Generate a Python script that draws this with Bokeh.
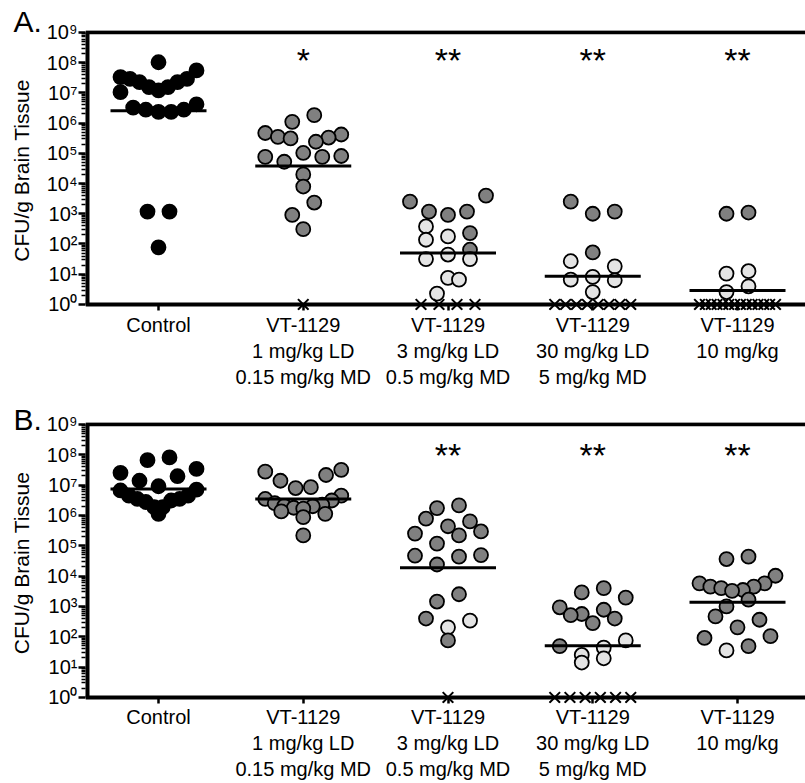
import math
from bokeh.plotting import figure
from bokeh.models import Range1d, FixedTicker, Title, ColumnDataSource
from bokeh.layouts import column
from bokeh.embed import file_html
from bokeh.resources import INLINE
from bokeh.core.properties import value

FONT = "Liberation Sans"

# ---------------- data (log10 CFU/g brain tissue, one value per mouse) ----------------
groups = [
    "Control",
    "VT-1129\n1 mg/kg LD\n0.15 mg/kg MD",
    "VT-1129\n3 mg/kg LD\n0.5 mg/kg MD",
    "VT-1129\n30 mg/kg LD\n5 mg/kg MD",
    "VT-1129\n10 mg/kg",
]
y_ticks_exp = [0, 1, 2, 3, 4, 5, 6, 7, 8, 9]
y_label = "CFU/g Brain Tissue"

# Panel A
a_black = [
    [8.01, 7.74, 7.52, 7.46, 7.46, 7.35, 7.35, 7.19, 7.19, 7.08,
     7.02, 6.62, 6.51, 6.44, 6.44, 6.37, 6.37, 3.07, 3.07, 1.89],
    [], [], [], [],
]
a_dark = [
    [],
    [6.26, 6.04, 5.67, 5.62, 5.54, 5.52, 5.49, 5.38, 5.01, 4.91,
     4.88, 4.88, 4.72, 4.30, 3.90, 3.37, 2.96, 2.49],
    [3.60, 3.40, 3.07, 3.07, 2.96, 2.36, 1.81],
    [3.40, 3.07, 3.00, 1.72],
    [3.04, 3.00],
]
a_light = [
    [],
    [],
    [2.58, 2.25, 2.14, 1.65, 1.50, 1.50, 0.88, 0.82, 0.36],
    [1.43, 1.26, 0.91, 0.82, 0.80, 0.41],
    [1.10, 1.02, 0.60, 0.41],
]
a_below_limit = [0, 1, 4, 8, 14]     # mice with no detectable CFU (plotted as x at 10^0)
a_signif = ["", "*", "**", "**", "**"]

# Panel B
b_black = [
    [7.91, 7.82, 7.53, 7.40, 7.29, 7.14, 6.96, 6.85, 6.82, 6.65,
     6.65, 6.54, 6.54, 6.49, 6.44, 6.27, 6.27, 6.05],
    [], [], [], [],
]
b_dark = [
    [],
    [7.50, 7.44, 7.33, 7.14, 6.93, 6.90, 6.65, 6.54, 6.49, 6.40,
     6.35, 6.31, 6.30, 6.25, 6.22, 6.13, 6.05, 5.94, 5.34],
    [6.33, 6.24, 5.89, 5.80, 5.64, 5.47, 5.40, 5.34, 5.07, 4.69,
     4.67, 4.64, 4.38, 3.40, 3.16, 2.60, 1.88],
    [3.60, 3.46, 3.29, 2.97, 2.89, 2.75, 2.71, 2.60, 2.45, 1.69],
    [4.64, 4.56, 4.01, 3.76, 3.76, 3.65, 3.65, 3.60, 3.54, 3.51,
     3.22, 3.00, 2.67, 2.56, 2.31, 2.02, 1.96, 1.69],
]
b_light = [
    [],
    [],
    [2.53, 2.31],
    [1.88, 1.64, 1.40, 1.29, 1.15],
    [1.55],
]
b_below_limit = [0, 0, 1, 6, 0]
b_signif = ["", "", "**", "**", "**"]

# ---------------- styling / layout ----------------
SHADES = {"black": "#000000", "dark": "#808080", "light": "#e4e4e4"}
W = 805
BORDER_L = 85
XPX = 144.75                      # pixels per category step
X_START = -73.0 / XPX
X_END = X_START + (W - BORDER_L) / XPX
LO_EXP, HI_EXP = -0.2, 9.06
Y_LO, Y_HI = 10 ** LO_EXP, 10 ** HI_EXP

BIN_H = 0.69                      # row height (decades) of the scatter layout
ROW_STEP, ROW_SPAN = 22.0, 76.0   # px
X_STEP = 18.0


def row_slots(m, step):
    # odd rows: centre first; side order alternates so rows look like Prism's
    out = []
    if m % 2 == 1:
        out.append(0.0)
        k = 1.0
        first = -1.0 if ((m - 1) // 2) % 2 == 0 else 1.0
    else:
        k = 0.5
        first = -1.0
    while len(out) < m:
        out.append(first * k * step)
        if len(out) < m:
            out.append(-first * k * step)
        k += 1.0
    return out


def swarm(logs, bin_top):
    offs = [0.0] * len(logs)
    bins = {}
    for i, v in enumerate(logs):
        bins.setdefault(math.floor((bin_top - v) / BIN_H), []).append(i)
    for idx in bins.values():
        idx = sorted(idx, key=lambda i: logs[i])
        m = len(idx)
        step = ROW_STEP if m < 2 else min(ROW_STEP, ROW_SPAN / (m - 1))
        for i, o in zip(idx, row_slots(m, step)):
            offs[i] = o
    return offs


def make_panel(black, dark, light, below, signif, letter, height, btop, frame_h,
               label_standoff, star_exp, letter_standoff, bin_top):
    bbot = height - btop - frame_h
    p = figure(width=W, height=height, x_range=Range1d(X_START, X_END),
               y_range=Range1d(Y_LO, Y_HI), y_axis_type="log",
               output_backend="svg", toolbar_location=None,
               min_border_left=BORDER_L, min_border_right=0,
               min_border_top=btop, min_border_bottom=bbot)
    p.outline_line_color = None
    p.xgrid.visible = False
    p.ygrid.visible = False
    p.background_fill_color = "white"

    cx, cy, cc = [], [], []
    xx, xy = [], []
    gm_x0, gm_x1, gm_y = [], [], []
    for g in range(len(groups)):
        logs, cols = [], []
        for shade, arr in (("black", black[g]), ("dark", dark[g]), ("light", light[g])):
            logs += arr
            cols += [SHADES[shade]] * len(arr)
        offs = swarm(logs, bin_top)
        order = sorted(range(len(logs)), key=lambda i: -logs[i])
        for i in order:
            cx.append(g + offs[i] / XPX)
            cy.append(10 ** logs[i])
            cc.append(cols[i])
        nb = below[g]
        if nb:
            step = X_STEP if nb < 2 else min(X_STEP, ROW_SPAN / (nb - 1))
            for o in row_slots(nb, step):
                xx.append(g + o / XPX)
                xy.append(1.0)
        allv = logs + [0.0] * nb
        gm = sum(allv) / len(allv)
        gm_x0.append(g - 48 / XPX)
        gm_x1.append(g + 48 / XPX)
        gm_y.append(10 ** gm)

    p.scatter(x="x", y="y", source=ColumnDataSource(dict(x=cx, y=cy, c=cc)),
              marker="circle", size=14, fill_color="c", line_color="black", line_width=1.8)
    p.scatter(x=xx, y=xy, marker="x", size=15, line_color="black", line_width=2)
    p.segment(x0=gm_x0, x1=gm_x1, y0=gm_y, y1=gm_y, line_color="black", line_width=3)

    # frame lines (top, baseline, left axis line)
    p.segment(x0=[X_START, X_START], x1=[X_END, X_END], y0=[1e9, 1.0], y1=[1e9, 1.0],
              line_color="black", line_width=4)
    p.segment(x0=[X_START], x1=[X_START], y0=[1.0], y1=[1e9], line_color="black", line_width=8)

    # significance
    sx = [g for g in range(len(groups)) if signif[g]]
    st = [signif[g] for g in sx]
    p.text(x=sx, y=[10 ** star_exp] * len(sx), text=st, text_align="center",
           text_baseline="middle", text_font=value(FONT), text_font_size="34px",
           text_color="black")

    # axes
    xa = p.xaxis[0]
    xa.ticker = FixedTicker(ticks=list(range(len(groups))), minor_ticks=[])
    xa.major_label_overrides = {i: groups[i] for i in range(len(groups))}
    xa.axis_line_color = None
    xa.major_tick_in = 6
    xa.major_tick_out = 0
    xa.major_tick_line_width = 2.5
    xa.minor_tick_line_color = None
    xa.major_label_standoff = label_standoff
    xa.major_label_text_font = FONT
    xa.major_label_text_font_size = "20px"
    xa.major_label_text_color = "black"

    ya = p.yaxis[0]
    ya.ticker = FixedTicker(ticks=[10 ** e for e in y_ticks_exp],
                            minor_ticks=[m * 10 ** e for e in y_ticks_exp[:-1] for m in range(2, 10)])
    sup = str.maketrans("0123456789", "⁰¹²³⁴⁵⁶⁷⁸⁹")
    ya.major_label_overrides = {10 ** e: "10" + str(e).translate(sup) for e in y_ticks_exp}
    ya.axis_line_color = None
    ya.major_tick_out = 7
    ya.major_tick_in = 0
    ya.major_tick_line_width = 2.5
    ya.minor_tick_out = 4
    ya.minor_tick_in = 0
    ya.minor_tick_line_width = 1.5
    ya.major_label_standoff = 1
    ya.major_label_text_font = FONT
    ya.major_label_text_font_size = "20px"
    ya.major_label_text_color = "black"
    ya.axis_label = y_label
    ya.axis_label_text_font = FONT
    ya.axis_label_text_font_size = "21px"
    ya.axis_label_text_font_style = "normal"
    ya.axis_label_text_color = "black"
    ya.axis_label_standoff = 11

    # panel letter as a left-aligned title pulled left of the y axis
    p.add_layout(Title(text=letter, align="left", offset=-72, standoff=letter_standoff,
                       vertical_align="bottom", text_font=FONT, text_font_size="30px",
                       text_font_style="normal", text_color="black"), "above")
    return p


p1 = make_panel(a_black, a_dark, a_light, a_below_limit, a_signif, "A.",
                391, 30, 281, 3, 8.07, -15, 7.745)
p2 = make_panel(b_black, b_dark, b_light, b_below_limit, b_signif, "B.",
                392, 31, 282, 2, 7.98, -26, 7.57)

layout = column(p1, p2, spacing=0)
open("out.html", "w").write(file_html(layout, INLINE))
